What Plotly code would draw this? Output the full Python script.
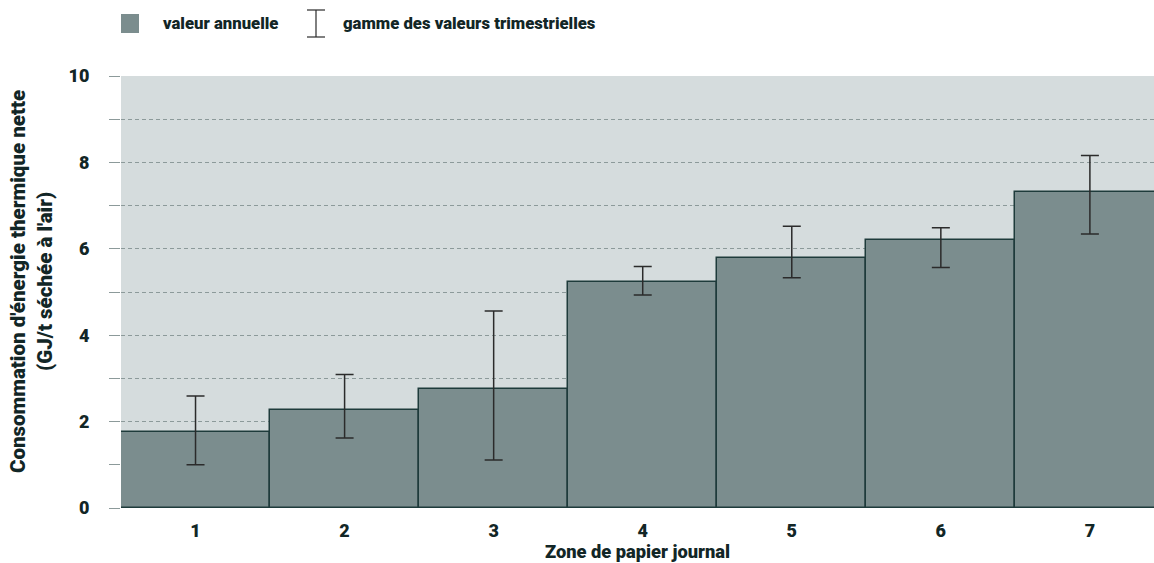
import plotly.graph_objects as go

zones = ["1", "2", "3", "4", "5", "6", "7"]
annual = [1.76, 2.27, 2.75, 5.23, 5.79, 6.20, 7.32]
q_min = [1.00, 1.62, 1.11, 4.93, 5.33, 5.57, 6.34]
q_max = [2.59, 3.09, 4.56, 5.59, 6.52, 6.49, 8.16]

FONT = "Roboto, Liberation Sans, DejaVu Sans, sans-serif"
W = 900
TXT = "#122626"
BAR = "#7b8d8e"
EDGE = "#1e3b3b"
GRID = "#8c9a9a"

err_plus = [h - v for h, v in zip(q_max, annual)]
err_minus = [v - l for l, v in zip(q_min, annual)]

fig = go.Figure()
fig.add_trace(go.Bar(
    x=zones, y=annual, width=1,
    marker=dict(color=BAR, line=dict(color=EDGE, width=1.5)),
    error_y=dict(type="data", symmetric=False, array=err_plus, arrayminus=err_minus,
                 color="#2b2b2b", thickness=1.5, width=9),
    showlegend=False, hoverinfo="skip",
))

L, R, T, B = 121, 1154, 76, 508
def px_x(p):
    return (p - L) / (R - L)
def px_y(p):
    return (B - p) / (B - T)

# legend
fig.add_shape(type="rect", xref="paper", yref="paper",
              x0=px_x(121), x1=px_x(139), y0=px_y(33), y1=px_y(14),
              fillcolor=BAR, line=dict(width=0))
fig.add_shape(type="line", xref="paper", yref="paper",
              x0=px_x(316), x1=px_x(316), y0=px_y(37), y1=px_y(10),
              line=dict(color="#2b2b2b", width=1.2))
for yy in (10, 37):
    fig.add_shape(type="line", xref="paper", yref="paper",
                  x0=px_x(307), x1=px_x(325), y0=px_y(yy), y1=px_y(yy),
                  line=dict(color="#2b2b2b", width=1.2))
fig.add_annotation(xref="paper", yref="paper", x=px_x(161), y=px_y(23),
                   xanchor="left", yanchor="middle", showarrow=False,
                   text="valeur annuelle", font=dict(family=FONT, size=16.7, color=TXT, weight=W))
fig.add_annotation(xref="paper", yref="paper", x=px_x(341), y=px_y(23),
                   xanchor="left", yanchor="middle", showarrow=False,
                   text="gamme des valeurs trimestrielles", font=dict(family=FONT, size=16.7, color=TXT, weight=W))

# y-axis title
fig.add_annotation(xref="paper", yref="paper", x=px_x(31), y=px_y(282),
                   xanchor="center", yanchor="middle", showarrow=False, textangle=-90,
                   text="Consommation d'énergie thermique nette<br>(GJ/t séchée à l'air)",
                   font=dict(family=FONT, size=20.5, color=TXT, weight=W))

fig.update_layout(
    width=1154, height=563,
    margin=dict(l=L, r=1154 - R, t=T, b=563 - B, pad=0),
    paper_bgcolor="white", plot_bgcolor="#d5dcdd",
    font=dict(family=FONT, color=TXT),
    bargap=0,
)
fig.update_xaxes(
    range=[-0.5, 6.43], showgrid=False, ticks="", showline=False,
    tickfont=dict(family=FONT, size=18, color=TXT, weight=W),
    ticklabelstandoff=10,
    title=dict(text="Zone de papier journal", font=dict(family=FONT, size=18.3, color=TXT, weight=W), standoff=3),
)
fig.update_yaxes(
    range=[0, 10], dtick=2, zeroline=False, showline=False,
    showgrid=True, gridcolor=GRID, griddash="4px,3px", gridwidth=1,
    ticks="outside", ticklen=11, tickcolor=GRID, tickwidth=1,
    tickfont=dict(family=FONT, size=18, color=TXT, weight=W),
    ticklabelstandoff=16,
    minor=dict(dtick=1, showgrid=True, gridcolor=GRID, griddash="4px,3px", gridwidth=1,
               ticks="outside", ticklen=11, tickcolor=GRID, tickwidth=1),
)

fig.write_html("out.html", config={"displayModeBar": False},
               post_script="document.body.style.margin='0px';")
